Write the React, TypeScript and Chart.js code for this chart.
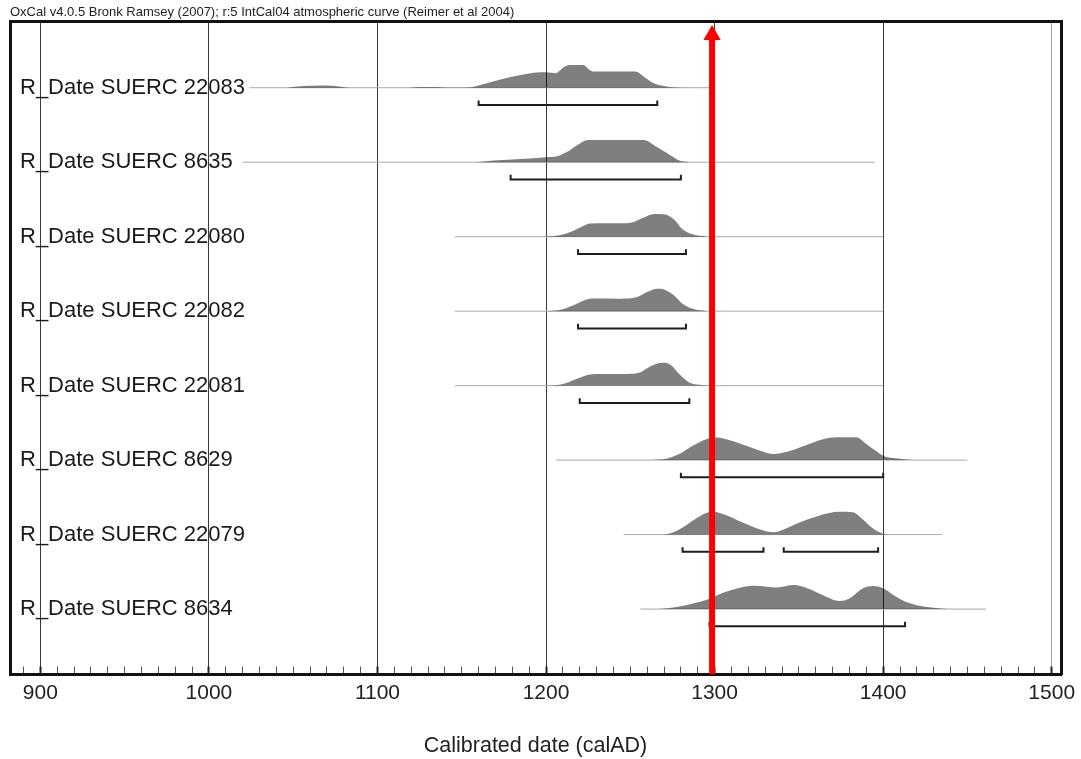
import React, { useEffect, useRef } from "react";
import { Chart, registerables } from "chart.js";

Chart.register(...registerables);

// ---------- text ----------
const TITLE_TEXT =
  "OxCal v4.0.5 Bronk Ramsey (2007); r:5 IntCal04 atmospheric curve (Reimer et al 2004)";
const X_TITLE = "Calibrated date (calAD)";
const ROW_LABELS = [
  "R_Date SUERC 22083",
  "R_Date SUERC 8635",
  "R_Date SUERC 22080",
  "R_Date SUERC 22082",
  "R_Date SUERC 22081",
  "R_Date SUERC 8629",
  "R_Date SUERC 22079",
  "R_Date SUERC 8634",
];
const X_TICK_LABELS = [900, 1000, 1100, 1200, 1300, 1400, 1500];
const MINOR_FIRST = 890;
const MINOR_LAST = 1500;
const MINOR_STEP = 10;

// ---------- data (calendar years AD, relative probability) ----------
const LINE_FROM = [1024, 1020, 1146, 1146, 1146, 1206, 1246, 1256];
const LINE_TO = [1300, 1395, 1400, 1400, 1400, 1450, 1435, 1461];

const D22083_YEARS = [1046, 1056, 1066, 1075, 1084, 1118, 1126, 1134, 1142, 1150, 1155, 1161, 1173, 1185, 1193, 1200, 1206, 1208, 1211, 1214, 1222, 1226, 1228, 1240, 1253, 1258, 1264, 1270, 1275, 1282];
const D22083_DENS = [0, 0.07, 0.1, 0.08, 0, 0, 0.03, 0.03, 0.01, 0.01, 0.02, 0.12, 0.36, 0.55, 0.65, 0.67, 0.63, 0.74, 0.91, 0.99, 0.99, 0.77, 0.7, 0.7, 0.7, 0.48, 0.19, 0.07, 0.02, 0];

const D8635_YEARS = [1150, 1157, 1169, 1185, 1200, 1206, 1212, 1218, 1225, 1240, 1258, 1266, 1274, 1279, 1285];
const D8635_DENS = [0, 0, 0.07, 0.14, 0.22, 0.25, 0.43, 0.72, 0.97, 0.97, 0.97, 0.65, 0.29, 0.07, 0];

const D22080_YEARS = [1200, 1208, 1216, 1222, 1226, 1236, 1244, 1252, 1258, 1264, 1270, 1276, 1281, 1287, 1295];
const D22080_DENS = [0, 0.06, 0.25, 0.46, 0.57, 0.58, 0.58, 0.64, 0.83, 0.99, 0.97, 0.75, 0.32, 0.1, 0];

const D22082_YEARS = [1200, 1208, 1216, 1224, 1228, 1244, 1254, 1260, 1266, 1270, 1276, 1281, 1287, 1295];
const D22082_DENS = [0, 0.05, 0.25, 0.51, 0.55, 0.54, 0.61, 0.83, 0.97, 0.94, 0.68, 0.32, 0.1, 0];

const D22081_YEARS = [1202, 1210, 1218, 1226, 1232, 1248, 1256, 1262, 1269, 1274, 1279, 1285, 1291, 1297];
const D22081_DENS = [0, 0.07, 0.29, 0.48, 0.51, 0.51, 0.58, 0.84, 0.99, 0.9, 0.51, 0.14, 0.04, 0];

const D8629_YEARS = [1262, 1272, 1279, 1287, 1295, 1300, 1307, 1317, 1327, 1335, 1343, 1355, 1366, 1374, 1384, 1390, 1396, 1400, 1406, 1414, 1422];
const D8629_DENS = [0, 0.07, 0.26, 0.62, 0.91, 0.99, 0.91, 0.67, 0.41, 0.26, 0.36, 0.67, 0.94, 0.99, 0.99, 0.7, 0.38, 0.19, 0.09, 0.03, 0];

const D22079_YEARS = [1266, 1272, 1279, 1289, 1295, 1299, 1307, 1317, 1327, 1335, 1343, 1355, 1368, 1374, 1382, 1388, 1394, 1400, 1406];
const D22079_DENS = [0, 0.03, 0.22, 0.7, 0.94, 0.99, 0.84, 0.51, 0.22, 0.1, 0.29, 0.65, 0.94, 0.99, 0.97, 0.65, 0.26, 0.04, 0];

const D8634_YEARS = [1266, 1272, 1283, 1295, 1305, 1315, 1323, 1331, 1337, 1347, 1355, 1364, 1374, 1380, 1388, 1394, 1400, 1406, 1412, 1420, 1430, 1438];
const D8634_DENS = [0, 0.03, 0.17, 0.39, 0.71, 0.93, 1.01, 0.97, 0.94, 1.04, 0.9, 0.61, 0.35, 0.46, 0.9, 1.0, 0.9, 0.61, 0.36, 0.17, 0.06, 0];

// ranges (brackets under each distribution)
const RANGE_ROW = [0, 1, 2, 3, 4, 5, 6, 6, 7];
const RANGE_FROM = [1160, 1179, 1219, 1219, 1220, 1280, 1281, 1341, 1297];
const RANGE_TO = [1266, 1280, 1283, 1283, 1285, 1400, 1329, 1397, 1413];

const ARROW_YEAR = 1298.5;

// ---------- layout constants ----------
const X_MIN = 882;
const X_MAX = 1505.5;
const Y_MAX = 8.775; // rows from top of plot
const FIRST_ROW = 0.896;
const DENS_UNIT = 0.309;
const BAR_OFFSET = 0.232;
const BAR_CAP = 0.062;
const ARROW_TIP = 0.188;

const FONT = "'Liberation Sans', Arial, Helvetica, sans-serif";

const noPad = (s: any) => {
  s.paddingLeft = 0;
  s.paddingRight = 0;
  s.paddingTop = 0;
  s.paddingBottom = 0;
};

export default function App() {
  const ref = useRef<HTMLCanvasElement>(null);

  useEffect(() => {
    const canvas = ref.current;
    if (!canvas) return;
    Chart.defaults.font.family = FONT;
    Chart.defaults.color = "#222";

    const dists = [
      [D22083_YEARS, D22083_DENS],
      [D8635_YEARS, D8635_DENS],
      [D22080_YEARS, D22080_DENS],
      [D22082_YEARS, D22082_DENS],
      [D22081_YEARS, D22081_DENS],
      [D8629_YEARS, D8629_DENS],
      [D22079_YEARS, D22079_DENS],
      [D8634_YEARS, D8634_DENS],
    ];
    const base = (i: number) => FIRST_ROW + i;
    const datasets: any[] = [];

    // red arrow on top
    datasets.push({
      label: "arrow",
      data: [
        { x: ARROW_YEAR, y: Y_MAX },
        { x: ARROW_YEAR, y: ARROW_TIP },
      ],
      borderColor: "#ff0000",
      backgroundColor: "#ff0000",
      borderWidth: 6,
      borderCapStyle: "butt",
      pointRadius: [0, 10],
      pointStyle: "triangle",
      pointBackgroundColor: "#ff0000",
      pointBorderColor: "#ff0000",
      pointBorderWidth: 0,
      fill: false,
      order: 0,
    });

    // thin baseline lines
    ROW_LABELS.forEach((_, i) => {
      datasets.push({
        label: "base" + i,
        data: [
          { x: LINE_FROM[i], y: base(i) },
          { x: LINE_TO[i], y: base(i) },
        ],
        borderColor: "#a8a8a8",
        borderWidth: 1,
        pointRadius: 0,
        fill: false,
        order: 2,
      });
    });

    // distributions
    dists.forEach(([years, dens], i) => {
      const b = base(i);
      datasets.push({
        label: ROW_LABELS[i],
        data: years.map((x, k) => ({ x, y: b - dens[k] * DENS_UNIT })),
        borderColor: "rgba(0,0,0,0)",
        borderWidth: 0,
        backgroundColor: "rgba(0,0,0,0.5)",
        fill: { value: b },
        pointRadius: 0,
        cubicInterpolationMode: "monotone",
        order: 1,
      });
    });

    // range brackets
    RANGE_ROW.forEach((row, j) => {
      const yb = base(row) + BAR_OFFSET;
      datasets.push({
        label: "range" + j,
        data: [
          { x: RANGE_FROM[j], y: yb - BAR_CAP },
          { x: RANGE_FROM[j], y: yb },
          { x: RANGE_TO[j], y: yb },
          { x: RANGE_TO[j], y: yb - BAR_CAP },
        ],
        borderColor: "#1e1e1e",
        borderWidth: 2,
        borderJoinStyle: "miter",
        pointRadius: 0,
        tension: 0,
        fill: false,
        order: 1,
      });
    });

    const chart = new Chart(canvas, {
      type: "line",
      data: { datasets },
      options: {
        animation: false,
        responsive: false,
        devicePixelRatio: 1,
        events: [],
        layout: { padding: { left: 10, right: 20, top: 0, bottom: 0 } },
        plugins: {
          legend: { display: false },
          tooltip: { enabled: false },
          title: {
            display: true,
            text: TITLE_TEXT,
            align: "start",
            color: "#222",
            font: { size: 13, weight: "normal", lineHeight: 1.2, family: FONT },
            padding: { top: 5, bottom: 0.4 },
          },
        },
        scales: {
          x: {
            type: "linear",
            position: "bottom",
            min: X_MIN,
            max: X_MAX,
            afterBuildTicks: (s: any) => {
              const t: any[] = [];
              for (let v = MINOR_FIRST; v <= MINOR_LAST; v += MINOR_STEP) t.push({ value: v });
              s.ticks = t;
            },
            afterFit: (s: any) => {
              s.height = 84.5;
              noPad(s);
            },
            ticks: {
              autoSkip: false,
              maxRotation: 0,
              minRotation: 0,
              padding: 14,
              color: "#222",
              font: { size: 21, family: FONT },
              callback: (v: any) => (X_TICK_LABELS.includes(Number(v)) ? String(v) : ""),
            },
            grid: {
              color: (c: any) => {
                const v = c.tick ? c.tick.value : NaN;
                if (!X_TICK_LABELS.includes(v)) return "rgba(0,0,0,0)";
                return v === 1500 ? "#a0a0a0" : "#3a3a3a";
              },
              lineWidth: 1,
              drawTicks: true,
              tickLength: -8,
              tickColor: (c: any) => (c.tick && X_TICK_LABELS.includes(c.tick.value) ? "#222" : "#555"),
              tickWidth: (c: any) => (c.tick && X_TICK_LABELS.includes(c.tick.value) ? 2 : 1),
            },
            border: { color: "#111", width: 3 },
            title: {
              display: true,
              text: X_TITLE,
              color: "#222",
              font: { size: 21.5, family: FONT },
              padding: { top: 0, bottom: 0.5 },
            },
          },
          x2: {
            type: "linear",
            position: "top",
            min: X_MIN,
            max: X_MAX,
            ticks: { display: false },
            grid: { display: false },
            border: { color: "#111", width: 3 },
            afterFit: (s: any) => {
              s.height = 0;
              noPad(s);
            },
          },
          y: {
            type: "linear",
            position: "left",
            min: 0,
            max: Y_MAX,
            reverse: true,
            afterBuildTicks: (s: any) => {
              s.ticks = ROW_LABELS.map((_, i) => ({ value: FIRST_ROW + i }));
            },
            afterFit: (s: any) => {
              s.width = 0;
              noPad(s);
            },
            ticks: {
              mirror: true,
              padding: 10,
              autoSkip: false,
              color: "#1a1a1a",
              font: { size: 22, family: FONT },
              callback: (_v: any, i: number) => ROW_LABELS[i],
            },
            grid: { display: false },
            border: { color: "#111", width: 3 },
          },
          y2: {
            type: "linear",
            position: "right",
            ticks: { display: false },
            grid: { display: false },
            border: { color: "#111", width: 3 },
            afterFit: (s: any) => {
              s.width = 0;
              noPad(s);
            },
          },
        },
      } as any,
    });

    return () => chart.destroy();
  }, []);

  return (
    <div
      style={{
        position: "absolute",
        left: 0,
        top: 0,
        width: 1081,
        height: 759,
        background: "#fff",
      }}
    >
      <canvas ref={ref} width={1081} height={759} style={{ display: "block" }} />
    </div>
  );
}
